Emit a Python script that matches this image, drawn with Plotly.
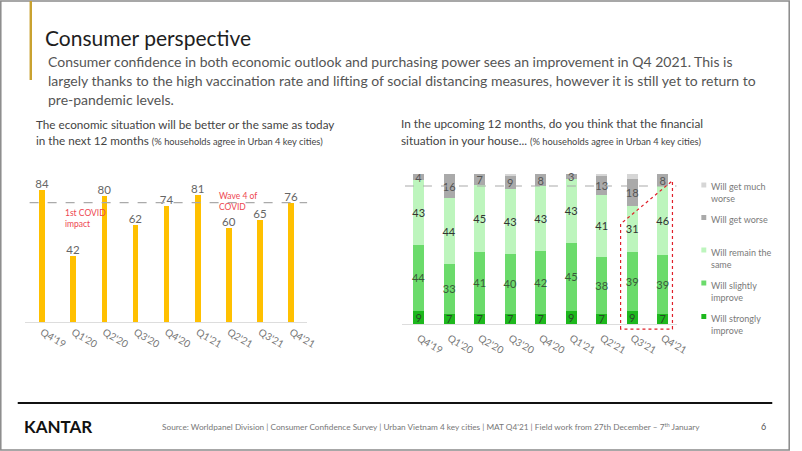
import plotly.graph_objects as go

# ---------------- data ----------------
quarters = ["Q4'19", "Q1'20", "Q2'20", "Q3'20", "Q4'20", "Q1'21", "Q2'21", "Q3'21", "Q4'21"]
economy_better_same = [84, 42, 80, 62, 74, 81, 60, 65, 76]

strongly_improve = [9, 7, 7, 7, 7, 9, 7, 9, 7]
slightly_improve = [44, 33, 41, 40, 42, 45, 38, 39, 39]
remain_same = [43, 44, 45, 43, 43, 43, 41, 31, 46]
get_worse = [4, 16, 7, 9, 8, 3, 13, 18, 8]
much_worse = [0, 0, 0, 1, 0, 0, 1, 3, 0]

series_names = ["Will strongly improve", "Will slightly improve", "Will remain the same",
                "Will get worse", "Will get much worse"]

W, H = 802, 451
FONT = "Lato"

def px(x):
    return x / W

def py(y):
    return 1 - y / H

fig = go.Figure()

# ---------------- left chart ----------------
fig.add_trace(go.Bar(
    x=quarters, y=economy_better_same, xaxis="x", yaxis="y",
    marker=dict(color="#FFC000", line=dict(width=0)), width=0.18,
    text=[str(v) for v in economy_better_same], textposition="outside",
    constraintext="none", textangle=0,
    textfont=dict(size=11.5, color="#666666", family=FONT), cliponaxis=False,
    showlegend=False, hoverinfo="x+y"))

# ---------------- right chart ----------------
colors = ["#1DB81D", "#6BDB6B", "#BDF5BD", "#AAAAAA", "#D6D6D6"]
text_colors = ["#2A4A2A", "#3A5A3A", "#333333", "#555555", "#555555"]
all_vals = [strongly_improve, slightly_improve, remain_same, get_worse, much_worse]
for name, vals, col, tc in zip(series_names, all_vals, colors, text_colors):
    show_text = name != "Will get much worse"
    kw = {}
    if show_text:
        kw = dict(text=[str(v) for v in vals], textposition="inside",
                  insidetextanchor="middle", textangle=0, constraintext="none",
                  textfont=dict(size=11, color=tc, family=FONT))
    else:
        kw = dict(textposition="none")
    fig.add_trace(go.Bar(
        x=quarters, y=vals, xaxis="x2", yaxis="y2", name=name,
        marker=dict(color=col, line=dict(width=0)), width=0.37,
        showlegend=False, **kw))

# reference lines
left_ref = economy_better_same[-1]
right_ref = strongly_improve[-1] + slightly_improve[-1] + remain_same[-1]

shapes = [
    dict(type="line", xref="x", yref="y", x0=-0.4, x1=8.52, y0=left_ref, y1=left_ref,
         line=dict(color="#AAAAAA", width=1.2, dash="dash")),
    dict(type="line", xref="x2", yref="y2", x0=-0.45, x1=8.46, y0=right_ref, y1=right_ref,
         line=dict(color="#AAAAAA", width=1.2, dash="dash")),
    # red dotted highlight polygon
    dict(type="path", xref="x2", yref="y2",
         path="M 6.62,-3.4 L 6.62,66.7 L 8.32,95.5 L 8.32,-3.4 Z",
         line=dict(color="#E0202A", width=1.2, dash="dot")),
    # slide border
    dict(type="rect", xref="paper", yref="paper", x0=0.001, x1=0.999, y0=0.002, y1=0.998,
         line=dict(color="#8A8A8A", width=1.5)),
    # gold accent bar
    dict(type="rect", xref="paper", yref="paper", x0=px(30), x1=px(32.5), y0=py(80), y1=py(1),
         line=dict(width=0), fillcolor="#C9A230"),
    # footer line
    dict(type="line", xref="paper", yref="paper", x0=px(18), x1=px(784), y0=py(403), y1=py(403),
         line=dict(color="#111111", width=2)),
]

# legend markers
legend_items = [
    ("Will get much<br>worse", 185, "#D6D6D6"),
    ("Will get worse", 217.5, "#AAAAAA"),
    ("Will remain the<br>same", 250, "#BDF5BD"),
    ("Will slightly<br>improve", 283, "#6BDB6B"),
    ("Will strongly<br>improve", 316.5, "#1DB81D"),
]
for _, yc, col in legend_items:
    shapes.append(dict(type="rect", xref="paper", yref="paper",
                       x0=px(712), x1=px(717), y0=py(yc + 2.5), y1=py(yc - 2.5),
                       line=dict(width=0), fillcolor=col))

annotations = []

def txt(x, y, s, size, color, anchor="left", yanchor="middle"):
    annotations.append(dict(x=px(x), y=py(y), xref="paper", yref="paper", text=s,
                            showarrow=False, xanchor=anchor, yanchor=yanchor, align="left",
                            font=dict(size=size, color=color, family=FONT)))

# title & description
txt(44, 38, "Consumer perspective", 21, "#1E1E1E")
desc = [
    "Consumer confidence in both economic outlook and purchasing power sees an improvement in Q4 2021. This is",
    "largely thanks to the high vaccination rate and lifting of social distancing measures, however it is still yet to return to",
    "pre-pandemic levels.",
]
for i, line in enumerate(desc):
    txt(47, 62 + 19 * i, line, 14.0, "#555555")

# chart titles
sub = "<span style='font-size:9.3px'>(% households agree in Urban 4 key cities)</span>"
txt(35, 124, "The economic situation will be better or the same as today", 11.7, "#444444")
txt(35, 140, "in the next 12 months " + sub, 11.7, "#444444")
txt(405, 124, "In the upcoming 12 months, do you think that the financial", 11.8, "#444444")
txt(405, 140, "situation in your house... " + sub, 11.8, "#444444")

# red event notes (data coords)
red = "#EE4650"
for xa, ya, xv, yv, s in [("x", "y", 0.67, 66, "1st COVID<br>impact"),
                          ("x", "y", 5.62, 77, "Wave 4 of<br>COVID"),
                          ("x2", "y2", 0.61, 107, "1st COVID<br>impact"),
                          ("x2", "y2", 5.52, 107, "Wave 4 of<br>COVID")]:
    annotations.append(dict(x=xv, y=yv, xref=xa, yref=ya, text=s, showarrow=False,
                            xanchor="left", yanchor="middle", align="left",
                            font=dict(size=8.5, color=red, family=FONT)))

# legend texts
for label, yc, _ in legend_items:
    txt(720, yc - 5.5, label, 9, "#7A7A7A", yanchor="top")

# footer
txt(22, 426, "<b>KANTAR</b>", 17, "#111111")
txt(162, 426, "Source: Worldpanel Division | Consumer Confidence Survey | Urban Vietnam 4 key cities | MAT Q4'21 | "
              "Field work from 27th December \u2013 7<sup>th</sup> January", 8.25, "#777777")
txt(775, 426, "6", 9, "#555555", anchor="center")

axis_common = dict(showgrid=False, zeroline=False, ticks="",
                   tickfont=dict(size=10, color="#777777", family=FONT), tickangle=30,
                   fixedrange=True)

fig.update_layout(
    width=W, height=H, margin=dict(l=0, r=0, t=0, b=0),
    paper_bgcolor="white", plot_bgcolor="rgba(0,0,0,0)",
    barmode="stack", showlegend=False,
    font=dict(family=FONT),
    xaxis=dict(domain=[px(25), px(312)], range=[-0.56, 8.52], anchor="y",
               showline=True, linecolor="#DDDDDD", linewidth=1, **axis_common),
    yaxis=dict(domain=[py(322), py(164.9)], range=[0, 100], anchor="x",
               showticklabels=False, showgrid=False, zeroline=False, showline=False, fixedrange=True),
    xaxis2=dict(domain=[px(408), px(687)], range=[-0.55, 8.46], anchor="y2",
                showline=False, **axis_common),
    yaxis2=dict(domain=[py(330), py(172.5)], range=[-4, 101], anchor="x2",
                showticklabels=False, showgrid=False, zeroline=True, zerolinecolor="#DDDDDD",
                zerolinewidth=1, showline=False, fixedrange=True),
    shapes=shapes, annotations=annotations,
)

fig.write_html("out.html", config={"displayModeBar": False},
               post_script="document.body.style.margin='0';document.body.style.overflow='hidden';")
